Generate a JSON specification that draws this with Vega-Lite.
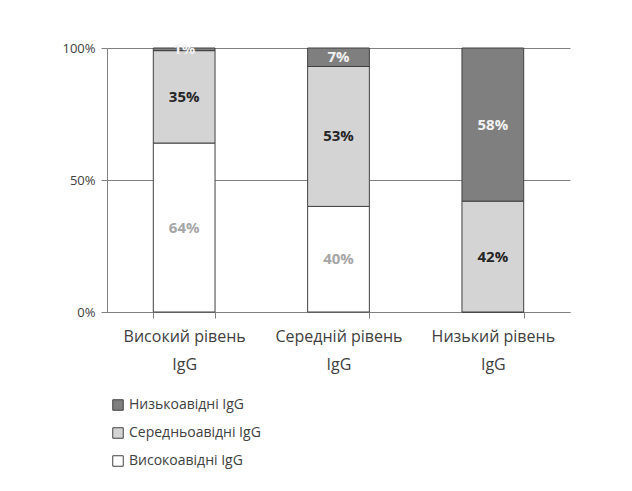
{
  "$schema": "https://vega.github.io/schema/vega-lite/v6.json",
  "autosize": "none",
  "width": 463,
  "height": 264,
  "padding": {"left": 107, "top": 48, "right": 62, "bottom": 179},
  "background": "#ffffff",
  "config": {
    "view": {"stroke": null},
    "font": "Open Sans"
  },
  "data": {
    "values": [
      {"group": "Високий рівень IgG", "series": "Високоавідні IgG", "ord": 1, "value": 64},
      {"group": "Високий рівень IgG", "series": "Середньоавідні  IgG", "ord": 2, "value": 35},
      {"group": "Високий рівень IgG", "series": "Низькоавідні IgG", "ord": 3, "value": 1},
      {"group": "Середній рівень IgG", "series": "Високоавідні IgG", "ord": 1, "value": 40},
      {"group": "Середній рівень IgG", "series": "Середньоавідні  IgG", "ord": 2, "value": 53},
      {"group": "Середній рівень IgG", "series": "Низькоавідні IgG", "ord": 3, "value": 7},
      {"group": "Низький рівень IgG", "series": "Високоавідні IgG", "ord": 1, "value": 0},
      {"group": "Низький рівень IgG", "series": "Середньоавідні  IgG", "ord": 2, "value": 42},
      {"group": "Низький рівень IgG", "series": "Низькоавідні IgG", "ord": 3, "value": 58}
    ]
  },
  "transform": [
    {"stack": "value", "groupby": ["group"], "sort": [{"field": "ord", "order": "ascending"}], "as": ["y0", "y1"]},
    {"calculate": "(datum.y0 + datum.y1) / 2", "as": "ymid"},
    {"calculate": "datum.value + '%'", "as": "label"}
  ],
  "encoding": {
    "x": {
      "field": "group",
      "type": "nominal",
      "sort": null,
      "scale": {"paddingInner": 0.6, "paddingOuter": 0.3},
      "axis": {
        "title": null,
        "labelAngle": 0,
        "labelExpr": "datum.label ? [replace(datum.label, ' IgG', ''), 'IgG'] : ''",
        "labelFontSize": 16,
        "labelColor": "#404040",
        "labelLineHeight": 28,
        "labelPadding": 10,
        "tickBand": "extent",
        "tickColor": "#808080",
        "tickSize": 6,
        "domainColor": "#808080"
      }
    }
  },
  "layer": [
    {
      "mark": {"type": "bar", "stroke": "#404040", "strokeWidth": 1},
      "encoding": {
        "y": {
          "field": "y0",
          "type": "quantitative",
          "scale": {"domain": [0, 100]},
          "axis": {
            "title": null,
            "values": [0, 50, 100],
            "labelExpr": "datum.value + '%'",
            "labelFontSize": 13,
            "labelColor": "#404040",
            "grid": true,
            "gridColor": "#808080",
            "domainColor": "#808080",
            "tickColor": "#808080",
            "tickSize": 6,
            "labelPadding": 6
          }
        },
        "y2": {"field": "y1"},
        "color": {
          "field": "series",
          "type": "nominal",
          "scale": {
            "domain": ["Низькоавідні IgG", "Середньоавідні  IgG", "Високоавідні IgG"],
            "range": ["#7f7f7f", "#d4d4d4", "#ffffff"]
          },
          "legend": {
            "title": null,
            "orient": "none",
            "legendX": 4,
            "legendY": 350,
            "symbolType": "square",
            "symbolSize": 110,
            "symbolStrokeColor": "#404040",
            "symbolStrokeWidth": 1,
            "labelFontSize": 14,
            "labelColor": "#404040",
            "rowPadding": 12
          }
        }
      }
    },
    {
      "transform": [{"filter": "datum.value > 0"}],
      "mark": {"type": "text", "fontSize": 15, "fontWeight": "bold", "baseline": "middle"},
      "encoding": {
        "y": {"field": "ymid", "type": "quantitative"},
        "yOffset": {"condition": {"test": "datum.value < 5", "value": 6}, "value": 0},
        "text": {"field": "label", "type": "nominal"},
        "color": {
          "field": "series",
          "type": "nominal",
          "scale": {
            "domain": ["Низькоавідні IgG", "Середньоавідні  IgG", "Високоавідні IgG"],
            "range": ["#f2f2f2", "#262626", "#a6a6a6"]
          },
          "legend": null
        }
      }
    }
  ],
  "resolve": {"scale": {"color": "independent"}}
}
